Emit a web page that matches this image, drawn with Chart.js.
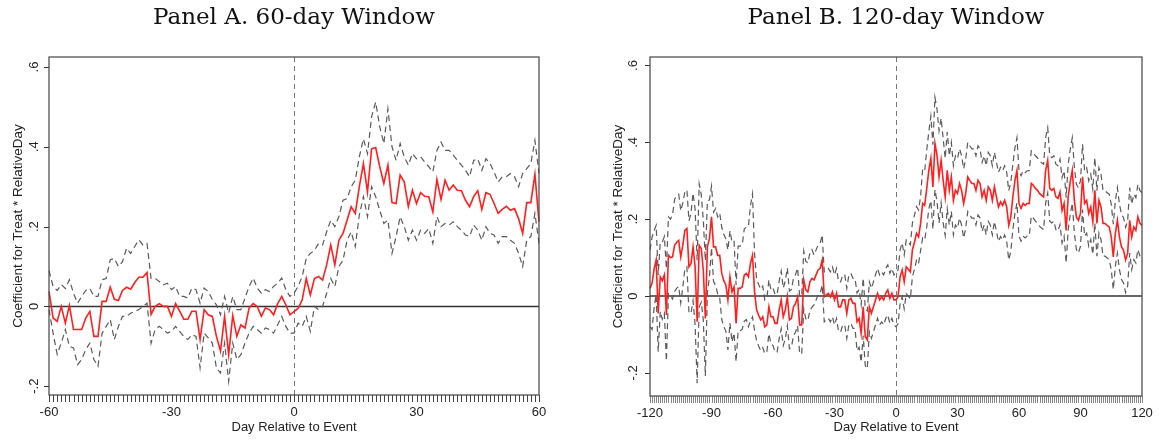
<!DOCTYPE html>
<html>
<head>
<meta charset="utf-8">
<script src="https://cdn.jsdelivr.net/npm/chart.js@4.4.0/dist/chart.umd.min.js"></script>
<style>
  html, body { margin: 0; padding: 0; background: #fff; }
  .panel { position: absolute; top: 0; height: 440px; }
  #panelA { left: 0; width: 580px; }
  #panelB { left: 580px; width: 579px; }
</style>
</head>
<body>
<div class="panel" id="panelA"><canvas id="graficoA" width="580" height="440"></canvas></div>
<div class="panel" id="panelB"><canvas id="graficoB" width="579" height="440"></canvas></div>
<script>
// DATOS

const diasA = Array.from({length: 121}, (_, i) => i - 60);
const diasB = Array.from({length: 241}, (_, i) => i - 120);

// Panel A: coeficiente y banda de confianza (dia -60 .. 60)
const coefA = [
  0.0375, -0.029, -0.0375, 0.0, -0.042, 0.002, -0.058, -0.058, -0.058, -0.029,
  -0.0125, -0.075, -0.075, 0.0125, 0.0125, 0.048, 0.018, 0.015, 0.04, 0.048,
  0.043, 0.06, 0.073, 0.073, 0.085, -0.02, 0.0, 0.007, 0.0, 0.0,
  -0.025, 0.007, -0.012, -0.032, -0.032, -0.012, -0.012, -0.083, -0.008, -0.021,
  -0.025, -0.075, -0.112, -0.025, -0.121, -0.023, -0.075, -0.046, -0.054, -0.004,
  0.007, 0.0, -0.025, -0.004, -0.008, -0.021, 0.007, 0.025, 0.004, -0.021,
  -0.013, -0.005, 0.016, 0.07, 0.029, 0.07, 0.075, 0.066, 0.104, 0.154,
  0.104, 0.166, 0.183, 0.216, 0.25, 0.233, 0.30, 0.358, 0.287, 0.395,
  0.398, 0.35, 0.308, 0.354, 0.26, 0.258, 0.329, 0.312, 0.25, 0.291,
  0.258, 0.285, 0.276, 0.275, 0.237, 0.318, 0.268, 0.316, 0.291, 0.304,
  0.291, 0.29, 0.266, 0.25, 0.275, 0.29, 0.243, 0.285, 0.281, 0.258,
  0.233, 0.243, 0.251, 0.241, 0.245, 0.22, 0.183, 0.26, 0.26, 0.331,
  0.212
];
const superiorA = [
  0.09, 0.05, 0.04, 0.055, 0.045, 0.067, 0.033, 0.008, 0.025, 0.04,
  0.045, 0.025, 0.025, 0.067, 0.07, 0.117, 0.12, 0.1, 0.112, 0.146,
  0.133, 0.15, 0.167, 0.154, 0.158, 0.07, 0.07, 0.0625, 0.054, 0.058,
  0.042, 0.05, 0.025, 0.025, 0.021, 0.046, 0.042, 0.008, 0.046, 0.0375,
  0.017, 0.004, -0.021, 0.025, -0.017, 0.025, -0.008, -0.008, 0.021, 0.05,
  0.071, 0.046, 0.033, 0.042, 0.0375, 0.05, 0.058, 0.071, 0.042, 0.025,
  0.033, 0.05, 0.075, 0.12, 0.133, 0.14, 0.158, 0.154, 0.187, 0.216,
  0.2, 0.225, 0.266, 0.27, 0.3, 0.316, 0.375, 0.42, 0.383, 0.475,
  0.512, 0.45, 0.408, 0.495, 0.4, 0.366, 0.408, 0.375, 0.354, 0.383,
  0.37, 0.375, 0.362, 0.35, 0.337, 0.391, 0.412, 0.391, 0.391, 0.379,
  0.366, 0.354, 0.341, 0.325, 0.366, 0.37, 0.341, 0.37, 0.358, 0.337,
  0.312, 0.325, 0.325, 0.333, 0.325, 0.3, 0.333, 0.345, 0.358, 0.416,
  0.333
];
const inferiorA = [
  -0.008, -0.067, -0.12, -0.092, -0.058, -0.1, -0.104, -0.146, -0.133, -0.108,
  -0.092, -0.133, -0.15, -0.067, -0.05, -0.033, -0.083, -0.05, -0.025, -0.025,
  -0.017, -0.0125, -0.008, 0.0, 0.008, -0.092, -0.058, -0.05, -0.058, -0.067,
  -0.0625, -0.05, -0.0625, -0.075, -0.083, -0.071, -0.075, -0.154, -0.067, -0.079,
  -0.092, -0.154, -0.167, -0.092, -0.1875, -0.092, -0.133, -0.121, -0.092, -0.067,
  -0.05, -0.058, -0.067, -0.054, -0.058, -0.067, -0.046, -0.025, -0.05, -0.067,
  -0.067, -0.042, -0.05, -0.025, -0.0625, 0.0, -0.008, 0.0, 0.033, 0.07,
  0.05, 0.1, 0.116, 0.166, 0.187, 0.15, 0.229, 0.275, 0.225, 0.3,
  0.275, 0.241, 0.208, 0.216, 0.133, 0.175, 0.225, 0.2, 0.166, 0.191,
  0.166, 0.191, 0.183, 0.195, 0.158, 0.225, 0.2, 0.208, 0.204, 0.212,
  0.2, 0.191, 0.179, 0.175, 0.204, 0.191, 0.166, 0.2, 0.183, 0.179,
  0.158, 0.175, 0.175, 0.166, 0.158, 0.133, 0.1, 0.166, 0.175, 0.233,
  0.158
];

// Panel B: coeficiente y banda de confianza (dia -120 .. 120)
const coefB = [
  0.02, 0.033, 0.07, 0.094, -0.045, 0.05, 0.04, 0.055, -0.049, 0.106,
  0.1, 0.102, 0.132, 0.14, 0.145, 0.102, 0.132, 0.171, 0.176, 0.076,
  0.085, 0.128, 0.076, -0.067, 0.132, 0.124, 0.068, -0.058, 0.128, 0.15,
  0.206, 0.128, 0.128, 0.106, 0.106, 0.059, 0.04, 0.029, -0.01, 0.05,
  0.011, 0.024, -0.071, 0.02, 0.02, 0.024, 0.055, 0.059, 0.05, 0.085,
  0.106, 0.011, -0.036, -0.05, -0.062, -0.054, -0.08, -0.075, -0.028, -0.054,
  -0.054, -0.071, -0.071, -0.036, -0.01, -0.054, -0.036, -0.002, -0.062, -0.058,
  -0.028, -0.019, -0.002, -0.075, -0.075, 0.042, 0.016, 0.011, 0.037, 0.046,
  0.042, 0.055, 0.068, 0.072, 0.094, -0.002, 0.003, 0.007, -0.002, 0.011,
  -0.01, 0.007, -0.028, -0.028, -0.01, -0.01, -0.045, -0.01, -0.006, -0.019,
  -0.019, -0.067, -0.058, -0.097, -0.028, -0.106, -0.114, -0.028, -0.045, -0.028,
  -0.01, 0.007, -0.01, -0.002, -0.01, 0.007, 0.016, -0.006, 0.007, -0.01,
  -0.01, -0.002, 0.05, 0.068, 0.037, 0.076, 0.07, 0.063, 0.12, 0.14,
  0.163, 0.154, 0.189, 0.241, 0.236, 0.28, 0.327, 0.358, 0.284, 0.397,
  0.366, 0.31, 0.353, 0.301, 0.258, 0.327, 0.275, 0.31, 0.249, 0.275,
  0.267, 0.293, 0.275, 0.241, 0.267, 0.31, 0.301, 0.293, 0.293, 0.275,
  0.301, 0.293, 0.258, 0.275, 0.249, 0.284, 0.275, 0.249, 0.284, 0.258,
  0.232, 0.245, 0.236, 0.249, 0.232, 0.184, 0.206, 0.258, 0.3, 0.327,
  0.241, 0.228, 0.241, 0.236, 0.241, 0.241, 0.293, 0.288, 0.28, 0.275,
  0.267, 0.262, 0.258, 0.327, 0.353, 0.28, 0.275, 0.28, 0.258, 0.254,
  0.271, 0.223, 0.241, 0.171, 0.258, 0.297, 0.327, 0.249, 0.206, 0.197,
  0.215, 0.31, 0.241, 0.249, 0.215, 0.232, 0.193, 0.275, 0.189, 0.249,
  0.232, 0.189, 0.189, 0.184, 0.18, 0.154, 0.102, 0.163, 0.197, 0.154,
  0.128, 0.119, 0.094, 0.111, 0.197, 0.154, 0.18, 0.171, 0.206, 0.189,
  0.184
];
const superiorB = [
  0.12, 0.153, 0.17, 0.184, 0.055, 0.14, 0.14, 0.155, 0.071, 0.206,
  0.2, 0.212, 0.252, 0.26, 0.265, 0.222, 0.242, 0.271, 0.276, 0.196,
  0.215, 0.268, 0.226, 0.093, 0.292, 0.264, 0.198, 0.092, 0.248, 0.25,
  0.286, 0.218, 0.228, 0.206, 0.216, 0.179, 0.16, 0.149, 0.12, 0.17,
  0.141, 0.144, 0.029, 0.13, 0.13, 0.134, 0.175, 0.179, 0.18, 0.235,
  0.266, 0.111, 0.044, 0.03, 0.018, 0.026, -0.01, -0.005, 0.042, 0.016,
  0.021, 0.004, 0.004, 0.039, 0.065, 0.021, 0.039, 0.073, 0.013, 0.017,
  0.047, 0.056, 0.073, 0.0, 0.0, 0.117, 0.091, 0.086, 0.112, 0.121,
  0.107, 0.12, 0.133, 0.137, 0.159, 0.063, 0.068, 0.072, 0.063, 0.076,
  0.055, 0.072, 0.037, 0.037, 0.055, 0.055, 0.02, 0.055, 0.059, 0.046,
  0.046, 0.008, 0.017, -0.022, 0.047, -0.031, -0.039, 0.037, 0.02, 0.037,
  0.055, 0.072, 0.055, 0.063, 0.055, 0.072, 0.081, 0.059, 0.072, 0.055,
  0.06, 0.068, 0.12, 0.138, 0.107, 0.146, 0.14, 0.133, 0.19, 0.21,
  0.233, 0.224, 0.259, 0.331, 0.326, 0.38, 0.427, 0.468, 0.394, 0.517,
  0.486, 0.43, 0.463, 0.411, 0.358, 0.427, 0.365, 0.4, 0.339, 0.365,
  0.357, 0.383, 0.365, 0.331, 0.357, 0.4, 0.391, 0.383, 0.383, 0.365,
  0.391, 0.383, 0.348, 0.365, 0.339, 0.374, 0.365, 0.339, 0.374, 0.348,
  0.322, 0.335, 0.326, 0.339, 0.322, 0.274, 0.296, 0.343, 0.385, 0.412,
  0.326, 0.313, 0.326, 0.321, 0.326, 0.326, 0.378, 0.373, 0.365, 0.36,
  0.352, 0.347, 0.343, 0.412, 0.438, 0.365, 0.36, 0.365, 0.343, 0.339,
  0.356, 0.308, 0.326, 0.256, 0.343, 0.382, 0.412, 0.334, 0.291, 0.282,
  0.3, 0.395, 0.326, 0.334, 0.3, 0.317, 0.278, 0.36, 0.274, 0.334,
  0.317, 0.274, 0.274, 0.269, 0.265, 0.239, 0.187, 0.248, 0.282, 0.239,
  0.213, 0.204, 0.179, 0.196, 0.282, 0.239, 0.265, 0.256, 0.291, 0.274,
  0.269
];
const inferiorB = [
  -0.08, -0.087, -0.03, 0.004, -0.145, -0.04, -0.06, -0.045, -0.169, 0.006,
  0.0, -0.008, 0.012, 0.02, 0.025, -0.018, 0.022, 0.071, 0.076, -0.044,
  -0.045, -0.012, -0.074, -0.227, -0.028, -0.016, -0.062, -0.208, 0.008, 0.05,
  0.126, 0.038, 0.028, 0.006, -0.004, -0.061, -0.08, -0.091, -0.14, -0.07,
  -0.119, -0.096, -0.171, -0.09, -0.09, -0.086, -0.065, -0.061, -0.08, -0.065,
  -0.054, -0.089, -0.116, -0.13, -0.142, -0.134, -0.15, -0.145, -0.098, -0.124,
  -0.129, -0.146, -0.146, -0.111, -0.085, -0.129, -0.111, -0.077, -0.137, -0.133,
  -0.103, -0.094, -0.077, -0.15, -0.15, -0.033, -0.059, -0.064, -0.038, -0.029,
  -0.023, -0.01, 0.003, 0.007, 0.029, -0.067, -0.062, -0.058, -0.067, -0.054,
  -0.075, -0.058, -0.093, -0.093, -0.075, -0.075, -0.11, -0.075, -0.071, -0.084,
  -0.084, -0.142, -0.133, -0.172, -0.103, -0.181, -0.189, -0.093, -0.11, -0.093,
  -0.075, -0.058, -0.075, -0.067, -0.075, -0.058, -0.049, -0.071, -0.058, -0.075,
  -0.08, -0.072, -0.02, -0.002, -0.033, 0.006, 0.0, -0.007, 0.05, 0.07,
  0.093, 0.084, 0.119, 0.151, 0.146, 0.18, 0.227, 0.248, 0.174, 0.277,
  0.246, 0.19, 0.243, 0.191, 0.158, 0.227, 0.185, 0.22, 0.159, 0.185,
  0.177, 0.203, 0.185, 0.151, 0.177, 0.22, 0.211, 0.203, 0.203, 0.185,
  0.211, 0.203, 0.168, 0.185, 0.159, 0.194, 0.185, 0.159, 0.194, 0.168,
  0.142, 0.155, 0.146, 0.159, 0.142, 0.094, 0.116, 0.173, 0.215, 0.242,
  0.156, 0.143, 0.156, 0.151, 0.156, 0.156, 0.208, 0.203, 0.195, 0.19,
  0.182, 0.177, 0.173, 0.242, 0.268, 0.195, 0.19, 0.195, 0.173, 0.169,
  0.186, 0.138, 0.156, 0.086, 0.173, 0.212, 0.242, 0.164, 0.121, 0.112,
  0.13, 0.225, 0.156, 0.164, 0.13, 0.147, 0.108, 0.19, 0.104, 0.164,
  0.147, 0.104, 0.104, 0.099, 0.095, 0.069, 0.017, 0.078, 0.112, 0.069,
  0.043, 0.034, 0.009, 0.026, 0.112, 0.069, 0.095, 0.086, 0.121, 0.104,
  0.099
];

// Ejes
const ticksY = [-0.2, 0, 0.2, 0.4, 0.6];
const etiquetasY = ['-.2', '0', '.2', '.4', '.6'];
const tituloY = 'Coefficient for Treat * RelativeDay';
const tituloX = 'Day Relative to Event';

const SANS = '"Liberation Sans", Arial, sans-serif';

// Dibuja el marco, la linea en 0, la linea vertical del evento, las marcas de los ejes,
// las etiquetas del eje Y giradas (estilo Stata) y el titulo del panel
const marcoStata = {
  id: 'marcoStata',
  beforeDatasetsDraw(chart, args, opts) {
    const {ctx, chartArea: a, scales: {x, y}} = chart;
    ctx.save();
    const y0 = y.getPixelForValue(0);
    ctx.strokeStyle = '#333';
    ctx.lineWidth = 1.5;
    ctx.beginPath(); ctx.moveTo(a.left, y0); ctx.lineTo(a.right, y0); ctx.stroke();

    const x0 = Math.round(x.getPixelForValue(opts.dias.indexOf(0))) + 0.5;
    ctx.strokeStyle = '#777';
    ctx.lineWidth = 1;
    ctx.setLineDash([5, 4]);
    ctx.beginPath(); ctx.moveTo(x0, a.top); ctx.lineTo(x0, a.bottom); ctx.stroke();
    ctx.restore();
  },
  afterDraw(chart, args, opts) {
    const {ctx, chartArea: a, scales: {x, y}} = chart;
    ctx.save();

    // marcas del eje X, una por dia
    ctx.strokeStyle = opts.colorMarcas;
    ctx.lineWidth = 1;
    ctx.beginPath();
    opts.dias.forEach((d, i) => {
      const px = Math.round(x.getPixelForValue(i)) + 0.5;
      ctx.moveTo(px, a.bottom);
      ctx.lineTo(px, a.bottom + 7);
    });
    ctx.stroke();

    // marcas del eje Y
    ctx.strokeStyle = '#333';
    ctx.beginPath();
    ticksY.forEach(v => {
      const py = Math.round(y.getPixelForValue(v)) + 0.5;
      ctx.moveTo(a.left - 5, py);
      ctx.lineTo(a.left, py);
    });
    ctx.stroke();

    ctx.strokeStyle = '#444';
    ctx.lineWidth = 1.2;
    ctx.strokeRect(a.left, a.top, a.right - a.left, a.bottom - a.top);

    ctx.fillStyle = '#222';
    ctx.font = '13px ' + SANS;
    ctx.textAlign = 'center';
    ctx.textBaseline = 'middle';
    ticksY.forEach((v, i) => {
      ctx.save();
      ctx.translate(a.left - opts.sepEtiquetas, y.getPixelForValue(v));
      ctx.rotate(-Math.PI / 2);
      ctx.fillText(etiquetasY[i], 0, 0);
      ctx.restore();
    });

    ctx.fillStyle = '#111';
    ctx.font = '23px "DejaVu Serif", serif';
    ctx.fillText(opts.titulo, (a.left + a.right) / 2, 18);
    ctx.restore();
  }
};

function crearGrafico(id, cfg) {
  const ctx = document.getElementById(id).getContext('2d');
  return new Chart(ctx, {
    type: 'line',
    data: {
      labels: cfg.dias,
      datasets: [
        { data: cfg.superior, borderColor: '#5a5a5a', borderWidth: 1.2, borderDash: [6, 4] },
        { data: cfg.inferior, borderColor: '#5a5a5a', borderWidth: 1.2, borderDash: [6, 4] },
        { data: cfg.coef, borderColor: '#ff1f1f', borderWidth: 1.6 }
      ]
    },
    options: {
      responsive: false,
      animation: false,
      elements: { point: { radius: 0 }, line: { tension: 0 } },
      layout: { padding: { top: 57, right: cfg.derecha, left: 0, bottom: 0 } },
      plugins: {
        legend: { display: false },
        tooltip: { enabled: false },
        marcoStata: { titulo: cfg.titulo, dias: cfg.dias, sepEtiquetas: cfg.sepEtiquetas, colorMarcas: cfg.colorMarcas }
      },
      scales: {
        x: {
          type: 'category',
          offset: false,
          border: { display: false },
          grid: { display: false, tickLength: 7 },
          ticks: {
            autoSkip: false,
            maxRotation: 0,
            padding: 3,
            color: '#222',
            font: { size: 13, family: SANS },
            callback: function (val) {
              const d = this.getLabelForValue(val);
              return d % 30 === 0 ? String(d) : '';
            }
          },
          title: { display: true, text: tituloX, color: '#222', font: { size: 13, family: SANS }, padding: { top: 0, bottom: 5 } },
          afterFit: (s) => { s.height = cfg.altoX; }
        },
        y: {
          min: cfg.yMin,
          max: cfg.yMax,
          border: { display: false },
          grid: { display: false },
          ticks: { display: false },
          afterBuildTicks: (s) => { s.ticks = ticksY.map(v => ({ value: v })); },
          title: { display: true, text: tituloY, color: '#222', font: { size: 13.5, family: SANS }, padding: { top: cfg.sepTituloY, bottom: 0 } },
          afterFit: (s) => { s.width = cfg.anchoY; }
        }
      }
    },
    plugins: [marcoStata]
  });
}

crearGrafico('graficoA', {
  dias: diasA, coef: coefA, superior: superiorA, inferior: inferiorA,
  titulo: 'Panel A. 60-day Window',
  yMin: -0.222, yMax: 0.625, anchoY: 49, derecha: 41, altoX: 45,
  sepEtiquetas: 15, sepTituloY: 10.5, colorMarcas: '#444'
});

crearGrafico('graficoB', {
  dias: diasB, coef: coefB, superior: superiorB, inferior: inferiorB,
  titulo: 'Panel B. 120-day Window',
  yMin: -0.26, yMax: 0.622, anchoY: 70, derecha: 17, altoX: 44,
  sepEtiquetas: 16.5, sepTituloY: 30.5, colorMarcas: '#888'
});
</script>
</body>
</html>
